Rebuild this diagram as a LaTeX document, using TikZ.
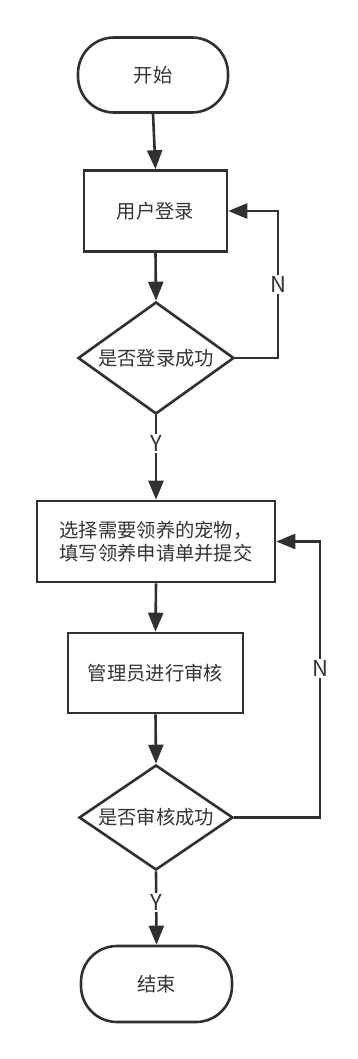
\documentclass[tikz,border=0pt]{standalone}
\usepackage{fontspec}
\newfontfamily\cjk{Noto Sans CJK SC}
\usetikzlibrary{shapes.geometric,arrows.meta}
\definecolor{ink}{HTML}{2F3033}
\definecolor{txt}{HTML}{333333}
\tikzset{
  base/.style={draw=ink, line width=2.6pt, text=txt, font=\cjk\fontsize{19.3}{23.5}\selectfont, align=center, inner sep=0pt},
  term/.style={base, rectangle, rounded corners=36pt},
  proc/.style={base, rectangle},
  decide/.style={base, diamond, aspect=1.39},
  conn/.style={draw=ink, line width=2.6pt, -{Triangle[length=19pt,width=15pt]}},
  lbl/.style={fill=white, text=txt, font=\cjk\fontsize{22}{24}\selectfont, inner sep=1.5pt}
}
\begin{document}
\begin{tikzpicture}[x=1pt,y=-1pt]
\useasboundingbox (0,0) rectangle (357,1059);
\node[term, minimum width=150pt, minimum height=75pt] (start) at (153,75) {开始};
\node[proc, minimum width=143pt, minimum height=81pt] (login) at (155.5,211) {用户登录};
\node[decide, minimum width=156pt, minimum height=112pt] (d1) at (156,358) {是否登录成功};
\node[proc, minimum width=238pt, minimum height=81pt] (apply) at (156,541.5) {选择需要领养的宠物，\\填写领养申请单并提交};
\node[proc, minimum width=175pt, minimum height=80pt] (review) at (155.5,673) {管理员进行审核};
\node[decide, minimum width=154pt, minimum height=105pt] (d2) at (156,817.5) {是否审核成功};
\node[term, minimum width=151pt, minimum height=76pt] (stop) at (156.5,984) {结束};

\coordinate (c1) at (278,358);
\coordinate (c2) at (320,817.5);

\draw[conn] (start.south) -- (login.north);
\draw[conn] (login.south) -- (d1.north);
\draw[conn] (d1.south) -- node[lbl, pos=0.33] {Y} (apply.north);
\draw[conn] (d1.east) -- (c1) -- node[lbl, pos=0.5] {N} (c1 |- login.east) -- (login.east);
\draw[conn] (apply.south) -- (review.north);
\draw[conn] (review.south) -- (d2.north);
\draw[conn] (d2.south) -- node[lbl, pos=0.43] {Y} (stop.north);
\draw[conn] (d2.east) -- (c2) -- node[lbl, pos=0.54] {N} (c2 |- apply.east) -- (apply.east);
\end{tikzpicture}
\end{document}
